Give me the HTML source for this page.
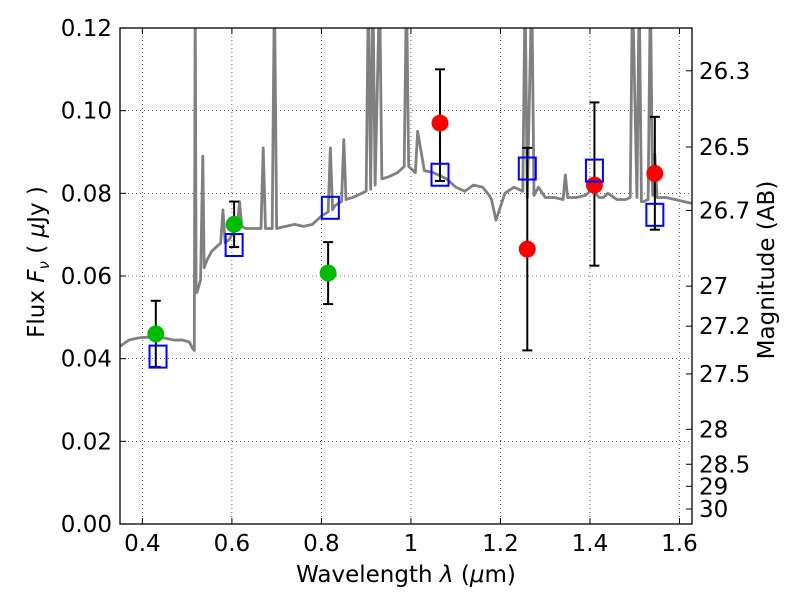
<!DOCTYPE html>
<html><head><meta charset="utf-8"><style>
body{margin:0;background:#fff}
svg text{font-family:"DejaVu Sans","Liberation Sans",sans-serif;fill:#000}
</style></head><body>
<svg id="chart" width="800" height="600" viewBox="0 0 800 600" xmlns="http://www.w3.org/2000/svg">
<defs><clipPath id="clip"><rect x="120" y="28" width="572" height="496"/></clipPath></defs>
<g id="grid"></g>
<g id="spec" clip-path="url(#clip)"></g>
<g id="marks"></g>
<rect x="120" y="28" width="572" height="496" fill="none" stroke="#000" stroke-width="1.3"/>
<g id="axes"></g>
<text x="406" y="582" font-size="23" text-anchor="middle">Wavelength  <tspan font-style="italic">λ</tspan> (<tspan font-style="italic">μ</tspan>m)</text>
<text transform="translate(44,262) rotate(-90)" font-size="23" text-anchor="middle">Flux  <tspan font-style="italic">F</tspan><tspan font-style="italic" font-size="15" dy="5">ν</tspan><tspan dy="-5">  (  </tspan><tspan font-style="italic">μ</tspan>Jy )</text>
<text transform="translate(774,270) rotate(-90)" font-size="23" text-anchor="middle">Magnitude (AB)</text>
</svg>
<script>
const xTicks=[0.4,0.6,0.8,1.0,1.2,1.4,1.6];
const xTickLabels=["0.4","0.6","0.8","1","1.2","1.4","1.6"];
const yTicks=[0,0.02,0.04,0.06,0.08,0.10,0.12];
const yTickLabels=["0.00","0.02","0.04","0.06","0.08","0.10","0.12"];
const magTicks=[26.3,26.5,26.7,27,27.2,27.5,28,28.5,29,30];
const greenX=[0.43,0.605,0.815];
const greenY=[0.046,0.0725,0.0607];
const greenErr=[0.008,0.0055,0.0075];
const redX=[1.065,1.26,1.41,1.545];
const redY=[0.097,0.0665,0.082,0.0848];
const redErrLo=[0.014,0.0245,0.0195,0.0136];
const redErrHi=[0.013,0.0245,0.020,0.0137];
const blueX=[0.435,0.605,0.82,1.065,1.26,1.41,1.545];
const blueY=[0.0405,0.0675,0.0765,0.0845,0.086,0.0855,0.0748];
const specX=[0.35,0.37,0.39,0.41,0.43,0.45,0.47,0.49,0.505,0.512,0.516,0.518,0.52,0.522,0.53,0.535,0.538,0.545,0.555,0.565,0.575,0.58,0.585,0.595,0.605,0.612,0.617,0.622,0.63,0.65,0.665,0.67,0.675,0.69,0.695,0.70,0.72,0.74,0.76,0.78,0.80,0.815,0.82,0.825,0.83,0.845,0.85,0.855,0.87,0.89,0.90,0.905,0.91,0.915,0.92,0.93,0.935,0.95,0.97,0.985,0.99,0.995,1.0,1.01,1.015,1.03,1.05,1.08,1.10,1.12,1.14,1.16,1.175,1.18,1.19,1.21,1.23,1.25,1.255,1.26,1.27,1.275,1.285,1.30,1.32,1.34,1.345,1.35,1.37,1.39,1.40,1.41,1.42,1.43,1.44,1.46,1.48,1.49,1.495,1.505,1.51,1.515,1.52,1.53,1.535,1.54,1.545,1.55,1.57,1.59,1.61,1.63];
const specY=[0.043,0.0445,0.045,0.0452,0.045,0.045,0.0445,0.0445,0.044,0.0425,0.042,0.13,0.058,0.056,0.059,0.089,0.062,0.064,0.066,0.067,0.068,0.076,0.068,0.069,0.071,0.072,0.078,0.072,0.0715,0.0715,0.0715,0.091,0.0715,0.0715,0.13,0.0715,0.072,0.0725,0.072,0.0725,0.0745,0.0755,0.091,0.076,0.077,0.078,0.093,0.0785,0.079,0.080,0.0805,0.13,0.081,0.13,0.082,0.13,0.0835,0.084,0.085,0.0865,0.13,0.0865,0.086,0.085,0.095,0.0855,0.085,0.0835,0.0815,0.0805,0.082,0.0815,0.0795,0.0785,0.0735,0.080,0.0815,0.0805,0.13,0.079,0.13,0.0795,0.0815,0.079,0.079,0.0785,0.0845,0.079,0.079,0.0795,0.0805,0.0805,0.079,0.079,0.08,0.0785,0.0785,0.079,0.13,0.079,0.13,0.078,0.078,0.0785,0.13,0.0795,0.0895,0.079,0.079,0.0785,0.078,0.0775];
const X=v=>120+(v-0.35)/(1.628-0.35)*572;
const Y=v=>524-v/0.12*496;
const ns="http://www.w3.org/2000/svg";
function mk(tag,attrs,parent){const e=document.createElementNS(ns,tag);for(const k in attrs)e.setAttribute(k,attrs[k]);parent.appendChild(e);return e;}
const grid=document.getElementById('grid'),axes=document.getElementById('axes'),spec=document.getElementById('spec'),marks=document.getElementById('marks');
xTicks.forEach((t,i)=>{
 const l=mk('line',{x1:X(t),x2:X(t),y1:28,y2:524,stroke:'#000','stroke-width':0.6,'stroke-dasharray':'1,3'},grid);
 
 
 mk('line',{x1:X(t),x2:X(t),y1:524,y2:518,stroke:'#000'},axes);
 mk('line',{x1:X(t),x2:X(t),y1:28,y2:34,stroke:'#000'},axes);
 const tx=mk('text',{x:X(t),y:551,'font-size':23,'text-anchor':'middle'},axes);
 tx.textContent=xTickLabels[i];
 
 
});
yTicks.forEach((t,i)=>{
 if(t>0&&t<0.12){const l=mk('line',{x1:120,x2:692,y1:Y(t),y2:Y(t),stroke:'#000','stroke-width':0.6,'stroke-dasharray':'1,3'},grid);
 
 }
 mk('line',{x1:120,x2:126,y1:Y(t),y2:Y(t),stroke:'#000'},axes);
 const tx=mk('text',{x:112,y:Y(t)+8,'font-size':23,'text-anchor':'end'},axes);
 tx.textContent=yTickLabels[i];
 
 
});
magTicks.forEach(m=>{
 const f=Math.pow(10,(23.9-m)/2.5);const y=Y(f);
 mk('line',{x1:692,x2:686,y1:y,y2:y,stroke:'#000'},axes);
 const tx=mk('text',{x:699,y:y+8,'font-size':23},axes);
 tx.textContent=String(m);
 
 
});
const pl=mk('polyline',{points:specX.map((x,i)=>X(x)+','+Y(specY[i])).join(' '),fill:'none',stroke:'#808080','stroke-width':2.8,'stroke-linejoin':'round'},spec);


function eb(x,lo,hi){
 mk('line',{x1:X(x),x2:X(x),y1:Y(lo),y2:Y(hi),stroke:'#000','stroke-width':2},marks);
 mk('line',{x1:X(x)-5,x2:X(x)+5,y1:Y(lo),y2:Y(lo),stroke:'#000','stroke-width':2},marks);
 mk('line',{x1:X(x)-5,x2:X(x)+5,y1:Y(hi),y2:Y(hi),stroke:'#000','stroke-width':2},marks);
}
greenX.forEach((x,i)=>{
 eb(x,greenY[i]-greenErr[i],greenY[i]+greenErr[i]);
 const c=mk('circle',{cx:X(x),cy:Y(greenY[i]),r:8.5,fill:'#00bb00'},marks);
 
 
});
redX.forEach((x,i)=>{
 eb(x,redY[i]-redErrLo[i],redY[i]+redErrHi[i]);
 const c=mk('circle',{cx:X(x),cy:Y(redY[i]),r:8.5,fill:'#ff0000'},marks);
 
 
});
blueX.forEach((x,i)=>{
 const r=mk('rect',{x:X(x)-8.5,y:Y(blueY[i])-11,width:17,height:22,fill:'none',stroke:'#0000ff','stroke-width':2},marks);
 
 
});
</script>
</body></html>
